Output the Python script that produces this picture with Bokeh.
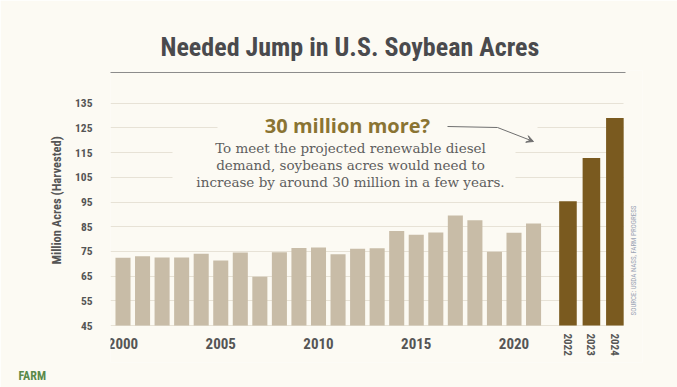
from bokeh.plotting import figure
from bokeh.models import (Range1d, FixedTicker, Label, Arrow, VeeHead, LinearAxis,
                          Title, BoxAnnotation)
from bokeh.embed import file_html
from bokeh.resources import INLINE
import math

# ---- data (million acres harvested) ----
hist_years = [2000, 2001, 2002, 2003, 2004, 2005, 2006, 2007, 2008, 2009, 2010,
              2011, 2012, 2013, 2014, 2015, 2016, 2017, 2018, 2019, 2020, 2021]
hist_acres = [72.4, 73.0, 72.5, 72.5, 74.0, 71.3, 74.6, 64.7, 74.7, 76.4, 76.6,
              73.8, 76.1, 76.3, 83.3, 81.7, 82.7, 89.5, 87.6, 74.9, 82.6, 86.3]
proj_years = ["2022", "2023", "2024"]
proj_acres = [95.3, 112.8, 129.0]
y_ticks = [45, 55, 65, 75, 85, 95, 105, 115, 125, 135]
x_ticks = [2000, 2005, 2010, 2015, 2020]

# ---- layout helpers (reference pixel -> data), positions only ----
PX_PER_YEAR = 19.55
PX_PER_UNIT = 2.47
def dx(px):
    return 2000 + (px - 122.5) / PX_PER_YEAR
def dy(py):
    return 45 + (325 - py) / PX_PER_UNIT

proj_x = [hist_years[-1] + 1.76 + 1.2 * i for i in range(len(proj_years))]

CREAM = "#fcfaf3"
COND = "Roboto Condensed, Roboto, sans-serif"
TXT = "#555555"

p = figure(width=677, height=387, output_backend="svg", toolbar_location=None,
           x_range=Range1d(dx(110), dx(642)), y_range=Range1d(dy(362), dy(70)),
           min_border_left=110, min_border_right=35, min_border_top=70,
           min_border_bottom=25)
p.border_fill_color = CREAM
p.background_fill_color = CREAM
p.outline_line_color = None

p.xgrid.grid_line_color = None
p.ygrid.grid_line_color = "#e7e2d6"
p.ygrid.grid_line_width = 1.2
p.ygrid.cross_bounds = (dx(110), dx(623))

p.yaxis.ticker = FixedTicker(ticks=y_ticks)
p.yaxis.axis_line_color = None
p.yaxis.major_tick_line_color = None
p.yaxis.minor_tick_line_color = None
p.yaxis.major_label_standoff = 12
p.yaxis.major_label_text_font = COND
p.yaxis.major_label_text_font_style = "bold"
p.yaxis.major_label_text_font_size = "11.5px"
p.yaxis.major_label_text_color = TXT

# y-axis title in the left panel, placed along the bar area
p.add_layout(Title(text="Million Acres (Harvested)", align="left", offset=98,
                   standoff=18, text_font=COND, text_font_style="bold",
                   text_font_size="12.5px", text_color=TXT), "left")

# year axes pinned to the bar baseline
p.xaxis.ticker = FixedTicker(ticks=x_ticks)
p.xaxis.fixed_location = 45
p.xaxis.axis_line_color = None
p.xaxis.major_tick_line_color = None
p.xaxis.minor_tick_line_color = None
p.xaxis.major_label_standoff = 6
p.xaxis.major_label_text_font = COND
p.xaxis.major_label_text_font_style = "bold"
p.xaxis.major_label_text_font_size = "15px"
p.xaxis.major_label_text_color = TXT

pax = LinearAxis(ticker=FixedTicker(ticks=proj_x), fixed_location=45,
                 major_label_overrides={xv: lab for xv, lab in zip(proj_x, proj_years)},
                 major_label_orientation="vertical", major_label_standoff=2,
                 axis_line_color=None, major_tick_line_color=None,
                 minor_tick_line_color=None, major_label_text_font=COND,
                 major_label_text_font_style="bold", major_label_text_font_size="11px",
                 major_label_text_color=TXT)
p.add_layout(pax, "below")

p.vbar(x=hist_years, top=hist_acres, bottom=45, width=0.77,
       fill_color="#c8bca7", line_color=None)
p.vbar(x=proj_x, top=proj_acres, bottom=45, width=0.9,
       fill_color="#7a5a1f", line_color=None)

# title and rule
p.add_layout(Title(text="Needed Jump in U.S. Soybean Acres", align="left",
                   offset=50, standoff=17, text_font=COND, text_font_style="bold",
                   text_font_size="26px", text_color="#4a4a4d"), "above")
p.add_layout(Arrow(x_start=dx(68), y_start=dy(72), x_end=dx(625), y_end=dy(72),
                   start=None, end=None, line_color="#8c8c8c", line_width=1.2))

# annotation: plain backing so grid lines stop around the text
p.add_layout(BoxAnnotation(left=dx(217), right=dx(537), top=dy(113), bottom=dy(139),
                           fill_color=CREAM, fill_alpha=1, line_color=None))
p.add_layout(BoxAnnotation(left=dx(172), right=dx(515), top=dy(139), bottom=dy(192),
                           fill_color=CREAM, fill_alpha=1, line_color=None))
p.add_layout(Label(x=dx(347), y=dy(125), text="30 million more?",
                   text_align="center", text_baseline="middle",
                   text_font="Open Sans", text_font_style="bold",
                   text_font_size="20px", text_color="#8a7433"))
body = ["To meet the projected renewable diesel",
        "demand, soybeans acres would need to",
        "increase by around 30 million in a few years."]
for i, line in enumerate(body):
    p.add_layout(Label(x=dx(350), y=dy(147 + 17 * i), text=line,
                       text_align="center", text_baseline="middle",
                       text_font="DejaVu Serif", text_font_size="13.5px",
                       text_color="#5e5e5e"))

p.add_layout(Arrow(x_start=dx(447), y_start=dy(126), x_end=dx(497), y_end=dy(127),
                   start=None, end=None, line_color="#6f6f6f", line_width=1))
p.add_layout(Arrow(x_start=dx(497), y_start=dy(127), x_end=dx(533), y_end=dy(141),
                   end=VeeHead(size=7, line_color="#6f6f6f", fill_color="#6f6f6f"),
                   line_color="#6f6f6f", line_width=1))

# source
p.add_layout(Label(x=dx(633), y=dy(260), text="SOURCE: USDA NASS, FARM PROGRESS",
                   angle=math.pi / 2, text_align="center", text_baseline="middle",
                   text_font=COND, text_font_size="7px", text_color="#9aa3b5"))

# logo
p.add_layout(Title(text="FARM", align="left", offset=-92, text_font=COND,
                   text_font_style="bold", text_font_size="12px",
                   text_color="#5a8a4a", standoff=8), "below")

open("out.html", "w").write(file_html(p, INLINE))
